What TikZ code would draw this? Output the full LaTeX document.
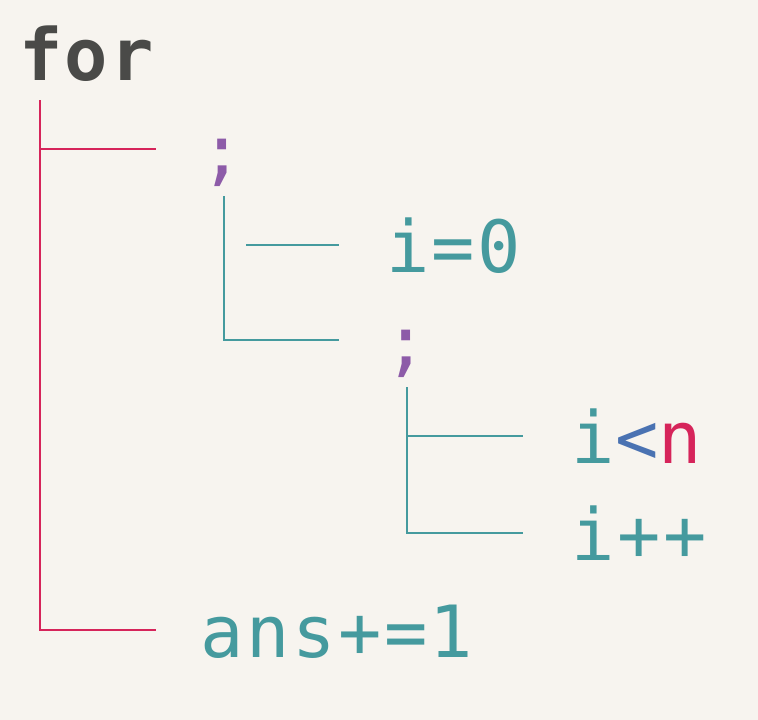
\documentclass[tikz,border=0pt]{standalone}
\usepackage{fontspec}
\setmonofont{DejaVu Sans Mono}[LetterSpace=3.5]
\usepackage{xcolor}
\usepackage{tikz}
\usetikzlibrary{positioning,calc}
\definecolor{bgcol}{HTML}{F7F4EF}
\definecolor{tealc}{HTML}{459A9E}
\definecolor{redc}{HTML}{D6245A}
\definecolor{purplec}{HTML}{8D5BA8}
\definecolor{bluec}{HTML}{4A72B2}
\definecolor{darkc}{HTML}{4A4A48}

\begin{document}
\begin{tikzpicture}[x=1pt, y=-1pt,
    main/.style = {font=\ttfamily\fontsize{72}{72}\selectfont, anchor=base west, inner xsep=45pt, inner ysep=0pt, text height=54pt, text depth=0pt, text=tealc},
    kw/.style = {font=\ttfamily\bfseries\fontsize{72}{72}\selectfont, text=darkc},
    rootline/.style = {draw=redc, line width=2pt},
    subline/.style = {draw=tealc, line width=2pt}]
    \fill[bgcol] (0,0) rectangle (758,720);
    \useasboundingbox (0,0) rectangle (758,720);
    \node[main, kw] (for) at (-26,80) {for};
    \node[main, text=purplec] (semi1) at (155.5,176) {;};
    \node[main] (ans) at (155.5,657) {ans+=1};
    \node[main] (init) at (341,272) {i=0};
    \node[main, text=purplec] (semi2) at (339,367) {;};
    \node[main] (cond) at (526.5,463) {i{\color{bluec}<}{\color{redc}n}};
    \node[main] (incr) at (526.5,560) {i++};
    \draw[rootline] ([xshift=66pt,yshift=-20pt]for.south west) |- (semi1.west);
    \draw[rootline] ([xshift=66pt,yshift=-20pt]for.south west) |- (ans.west);
    \draw[subline] ([xshift=68pt,yshift=-20pt]semi1.south west) |- (semi2.west);
    \draw[subline] ($(semi1.west |- init.west)+(90.5,0)$) -- ([xshift=-2pt]init.west);
    \draw[subline] ([xshift=68pt,yshift=-20pt]semi2.south west) |- ([xshift=-4pt]cond.west);
    \draw[subline] ([xshift=68pt,yshift=-20pt]semi2.south west) |- ([xshift=-4pt]incr.west);
\end{tikzpicture}
\end{document}
